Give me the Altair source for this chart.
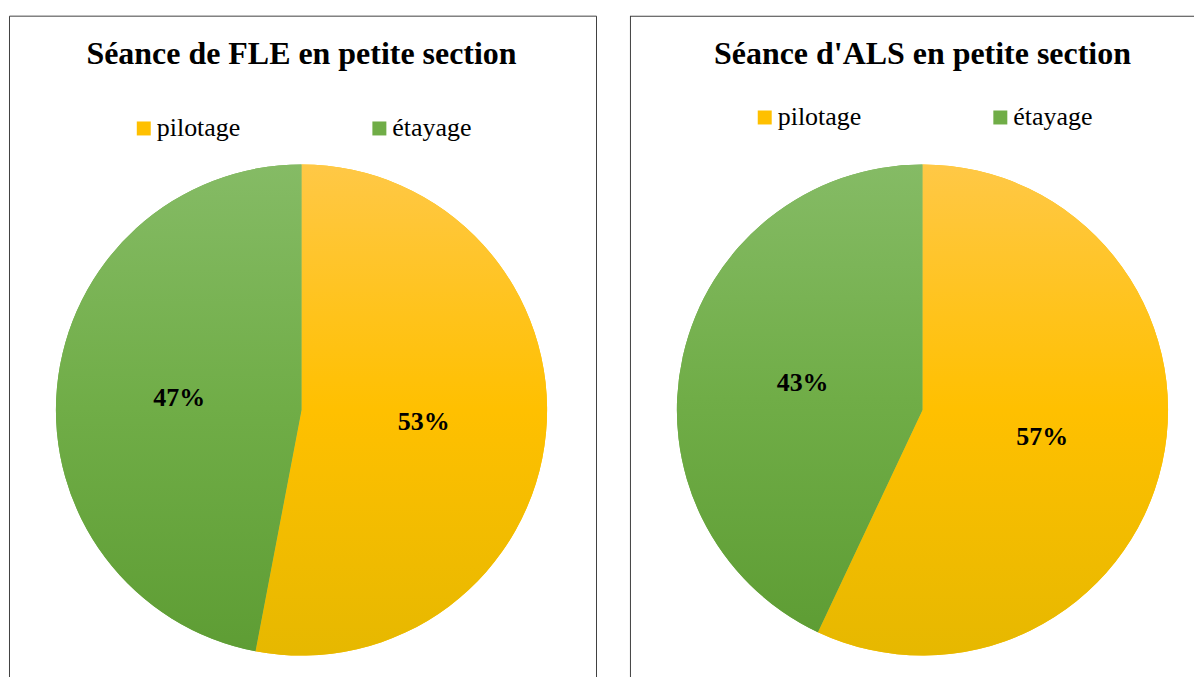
import altair as alt
import pandas as pd

categories = ["pilotage", "étayage"]
fle_values = [53, 47]
als_values = [57, 43]
titles = ["Séance de FLE en petite section", "Séance d'ALS en petite section"]
solid_colors = ["#FFC000", "#70AD47"]

grad_yellow = alt.LinearGradient(
    gradient="linear", x1=0, x2=0, y1=0, y2=1,
    stops=[alt.GradientStop(color="#FFC846", offset=0),
           alt.GradientStop(color="#FFC000", offset=0.5),
           alt.GradientStop(color="#E6B800", offset=1)])
grad_green = alt.LinearGradient(
    gradient="linear", x1=0, x2=0, y1=0, y2=1,
    stops=[alt.GradientStop(color="#85BB65", offset=0),
           alt.GradientStop(color="#70AD47", offset=0.5),
           alt.GradientStop(color="#5E9D34", offset=1)])

SERIF = "Liberation Serif"
RADIUS = 246
PIE_CX = 293  # pie centre, px from panel's left border
VIEW_H = 790


def panel(values, title, legend_y, width, framed):
    df = pd.DataFrame({
        "cat": categories,
        "value": values,
        "order": list(range(len(categories))),
        "label": [f"{v}%" for v in values],
    })
    base = alt.Chart(df).encode(
        theta=alt.Theta("value:Q", stack=True),
        order=alt.Order("order:Q"),
        x=alt.value(PIE_CX),
    )
    solid = base.mark_arc(outerRadius=RADIUS).encode(
        color=alt.Color(
            "cat:N",
            scale=alt.Scale(domain=categories, range=solid_colors),
            sort=categories,
            legend=alt.Legend(
                title=None, orient="none", direction="horizontal",
                legendX=122, legendY=legend_y, padding=0,
                symbolType="square", symbolSize=196, symbolStrokeWidth=0,
                labelFont=SERIF, labelFontSize=26, labelColor="black",
                labelOffset=0, columnPadding=126,
            ),
        )
    )
    grad = base.mark_arc(outerRadius=RADIUS).encode(
        fill=alt.condition(alt.datum.cat == "pilotage",
                           alt.value(grad_yellow), alt.value(grad_green))
    )
    text = base.mark_text(radius=RADIUS / 2, font=SERIF, fontWeight="bold",
                          fontSize=26, color="black").encode(text="label:N")
    layers = [solid, grad, text]
    if not framed:
        frame = alt.Chart(df.head(1)).mark_rect(
            filled=False, stroke="#404040", strokeWidth=2, clip=True
        ).encode(x=alt.value(0), x2=alt.value(width + 50),
                 y=alt.value(0), y2=alt.value(VIEW_H + 50))
        layers.append(frame)
    ch = alt.layer(*layers).properties(
        width=width, height=VIEW_H,
        title=alt.TitleParams(title, font=SERIF, fontSize=32, fontWeight="bold",
                              color="black", anchor="middle", offset=-80,
                              baseline="alphabetic", dx=PIE_CX - width / 2),
        view=alt.ViewBackground(stroke="#404040" if framed else None,
                                strokeWidth=1),
    ).resolve_scale(color="independent").resolve_legend(color="independent")
    return ch


chart = alt.hconcat(
    panel(fle_values, titles[0], 100, 588, True),
    panel(als_values, titles[1], 89, 565, False),
    spacing=33,
).resolve_scale(color="independent").resolve_legend(color="independent").properties(
    padding={"left": 0, "top": 6, "right": 0, "bottom": 0},
).configure(background="white", font=SERIF).configure_legend(
    labelFont=SERIF, labelFontSize=26, labelColor="black"
)

chart.save("out.html", embed_options={"renderer": "svg", "actions": False})
